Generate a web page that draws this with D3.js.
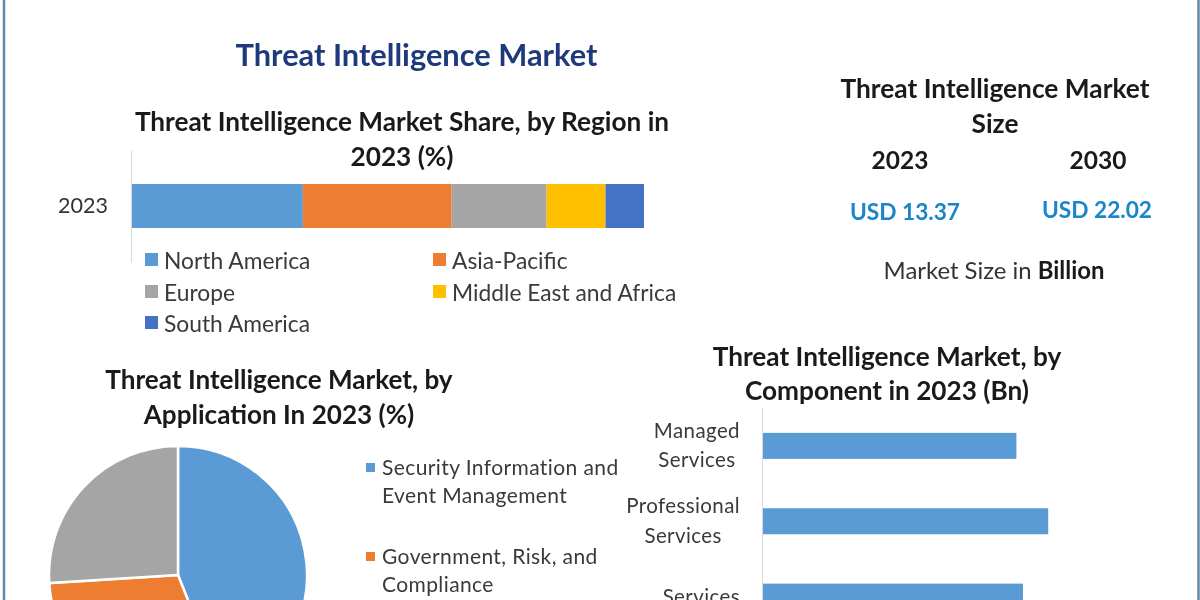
<!DOCTYPE html>
<html>
<head>
<meta charset="utf-8">
<script src="https://cdn.jsdelivr.net/npm/d3@7"></script>
<style>
  html, body { margin: 0; padding: 0; background: #fff; overflow: hidden; }
  svg { display: block; font-family: Lato, "Open Sans", sans-serif; filter: blur(0.5px); }
  .heading { font-weight: 700; fill: #1a1a1a; text-anchor: middle; }
  .legendText { fill: #3a3a3a; }
</style>
</head>
<body>
<svg id="chart" width="1200" height="600"></svg>
<script>
// Region share (stacked bar)
const regionYears = ["2023"];
const regions = ["North America", "Asia-Pacific", "Europe", "Middle East and Africa", "South America"];
const regionShares = [33.5, 29, 18.5, 11.5, 7.5];
const regionColors = ["#5b9bd5", "#ed7d31", "#a5a5a5", "#ffc000", "#4472c4"];

// Application share (pie), only two legend rows fit in the picture
const applications = ["Security Information and|Event Management", "Government, Risk, and|Compliance", "Other"];
const applicationShares = [44, 30, 26];
const applicationColors = ["#5b9bd5", "#ed7d31", "#a5a5a5"];

// Component size (bars)
const components = ["Managed|Services", "Professional|Services", "Services"];
const componentValues = [4.24, 4.77, 4.35];

// Market size block
const sizeYears = ["2023", "2030"];
const sizeLabels = ["USD 13.37", "USD 22.02"];

const svg = d3.select("#chart");

// Helper for the many text labels
function label(x, y, str, size, cls) {
    return svg.append("text")
        .attr("class", cls)
        .attr("x", x)
        .attr("y", y)
        .style("font-size", size + "px")
        .text(str);
}

// Outer frame, only the left and right edges are in view
svg.append("line").attr("x1", 4).attr("x2", 4).attr("y1", 0).attr("y2", 600).attr("stroke", "#5f8aaa").attr("stroke-width", 2.5);
svg.append("line").attr("x1", 1198.5).attr("x2", 1198.5).attr("y1", 0).attr("y2", 600).attr("stroke", "#5f8aaa").attr("stroke-width", 2.5);

// Main title
label(416.5, 66, "Threat Intelligence Market", 30.8, "heading").style("fill", "#1f3a7a");

// ---- Stacked bar by region ----
label(402, 131, "Threat Intelligence Market Share, by Region in", 26.2, "heading");
label(402, 166, "2023 (%)", 26.2, "heading");

const xRegion = d3.scaleLinear().domain([0, 100]).range([131, 644]);
const yRegion = d3.scaleBand().domain(regionYears).range([150, 262]).paddingInner(0.607).paddingOuter(0.3035);

const regionRow = { year: regionYears[0] };
regions.forEach((r, i) => { regionRow[r] = regionShares[i]; });
const stacked = d3.stack().keys(regions)([regionRow]);

svg.append("g")
    .selectAll("rect")
    .data(stacked)
    .enter()
    .append("rect")
    .attr("x", d => xRegion(d[0][0]))
    .attr("width", d => xRegion(d[0][1]) - xRegion(d[0][0]))
    .attr("y", yRegion(regionYears[0]))
    .attr("height", yRegion.bandwidth())
    .attr("fill", (d, i) => regionColors[i]);

const regionAxis = svg.append("g")
    .attr("transform", "translate(131,0)")
    .call(d3.axisLeft(yRegion).tickSize(0).tickPadding(23));
regionAxis.select(".domain").attr("stroke", "#d9d9d9");
regionAxis.selectAll("text").style("font-size", "21.5px").style("font-family", "Lato").attr("fill", "#333");

// Legend in two columns
const legendSpots = [[145, 260], [433, 260], [145, 292], [433, 292], [145, 323]];
regions.forEach((r, i) => {
    const [lx, ly] = legendSpots[i];
    svg.append("rect").attr("x", lx).attr("y", ly - 7).attr("width", 13).attr("height", 13).attr("fill", regionColors[i]);
    label(lx + 19, ly + 8.5, r, 22.8, "legendText");
});

// ---- Market size block ----
label(995, 98, "Threat Intelligence Market", 26.3, "heading");
label(995, 133, "Size", 26.3, "heading");
label(900, 169, sizeYears[0], 24.5, "heading");
label(1098, 169, sizeYears[1], 24.5, "heading");
label(905, 220, sizeLabels[0], 22.7, "heading").style("fill", "#1b85c9");
label(1097, 218, sizeLabels[1], 22.7, "heading").style("fill", "#1b85c9");
const sizeNote = label(994, 279, "Market Size in ", 23.9, "heading").style("font-weight", 400).style("fill", "#333");
sizeNote.append("tspan").style("font-weight", 700).style("fill", "#1a1a1a").text("Billion");

// ---- Pie by application ----
label(279, 389, "Threat Intelligence Market, by", 26.1, "heading");
label(279, 424, "Application In 2023 (%)", 26.1, "heading");

const pie = d3.pie().sort(null);
const arc = d3.arc().innerRadius(0).outerRadius(129);

svg.append("g")
    .attr("transform", "translate(178,575)")
    .selectAll("path")
    .data(pie(applicationShares))
    .enter()
    .append("path")
    .attr("d", arc)
    .attr("fill", (d, i) => applicationColors[i])
    .attr("stroke", "#fff")
    .attr("stroke-width", 2.5);

// Pie legend
const pieLegendY = [467, 556];
pieLegendY.forEach((ly, i) => {
    const lines = applications[i].split("|");
    svg.append("rect").attr("x", 366).attr("y", ly - 4).attr("width", 9).attr("height", 9).attr("fill", applicationColors[i]);
    lines.forEach((line, j) => {
        label(382, ly + 8 + j * 28, line, 21, "legendText").style("letter-spacing", "0.4px");
    });
});

// ---- Bars by component ----
label(887, 366, "Threat Intelligence Market, by", 26.2, "heading");
label(887, 400, "Component in 2023 (Bn)", 26.2, "heading");

const xComp = d3.scaleLinear().domain([0, 5]).range([762, 1062]);
const yComp = d3.scaleBand().domain(components).range([408, 634.5]).paddingInner(0.655).paddingOuter(0.33);

svg.append("g")
    .selectAll("rect")
    .data(componentValues)
    .enter()
    .append("rect")
    .attr("x", xComp(0))
    .attr("y", (d, i) => yComp(components[i]))
    .attr("width", d => xComp(d) - xComp(0))
    .attr("height", yComp.bandwidth())
    .attr("fill", "#5b9bd5");

const compAxis = svg.append("g")
    .attr("transform", "translate(762,0)")
    .call(d3.axisLeft(yComp).tickSize(0));
compAxis.select(".domain").attr("stroke", "#d9d9d9");

// Tick labels wrap on two lines, centred on themselves with a shared right edge
compAxis.selectAll(".tick text").each(function (d) {
    const el = d3.select(this);
    const lines = d.split("|");
    el.text(null)
        .attr("dy", null)
        .attr("text-anchor", "middle")
        .attr("fill", "#3a3a3a")
        .style("font-family", "Lato")
        .style("font-size", "20.5px")
        .style("letter-spacing", "0.4px");
    const spans = lines.map((line, j) => el.append("tspan")
        .attr("y", lines.length > 1 ? -8 + j * 29.5 : 7.5)
        .text(line));
    const widest = d3.max(spans, s => s.node().getComputedTextLength());
    spans.forEach(s => s.attr("x", -22 - widest / 2));
});
</script>
</body>
</html>
